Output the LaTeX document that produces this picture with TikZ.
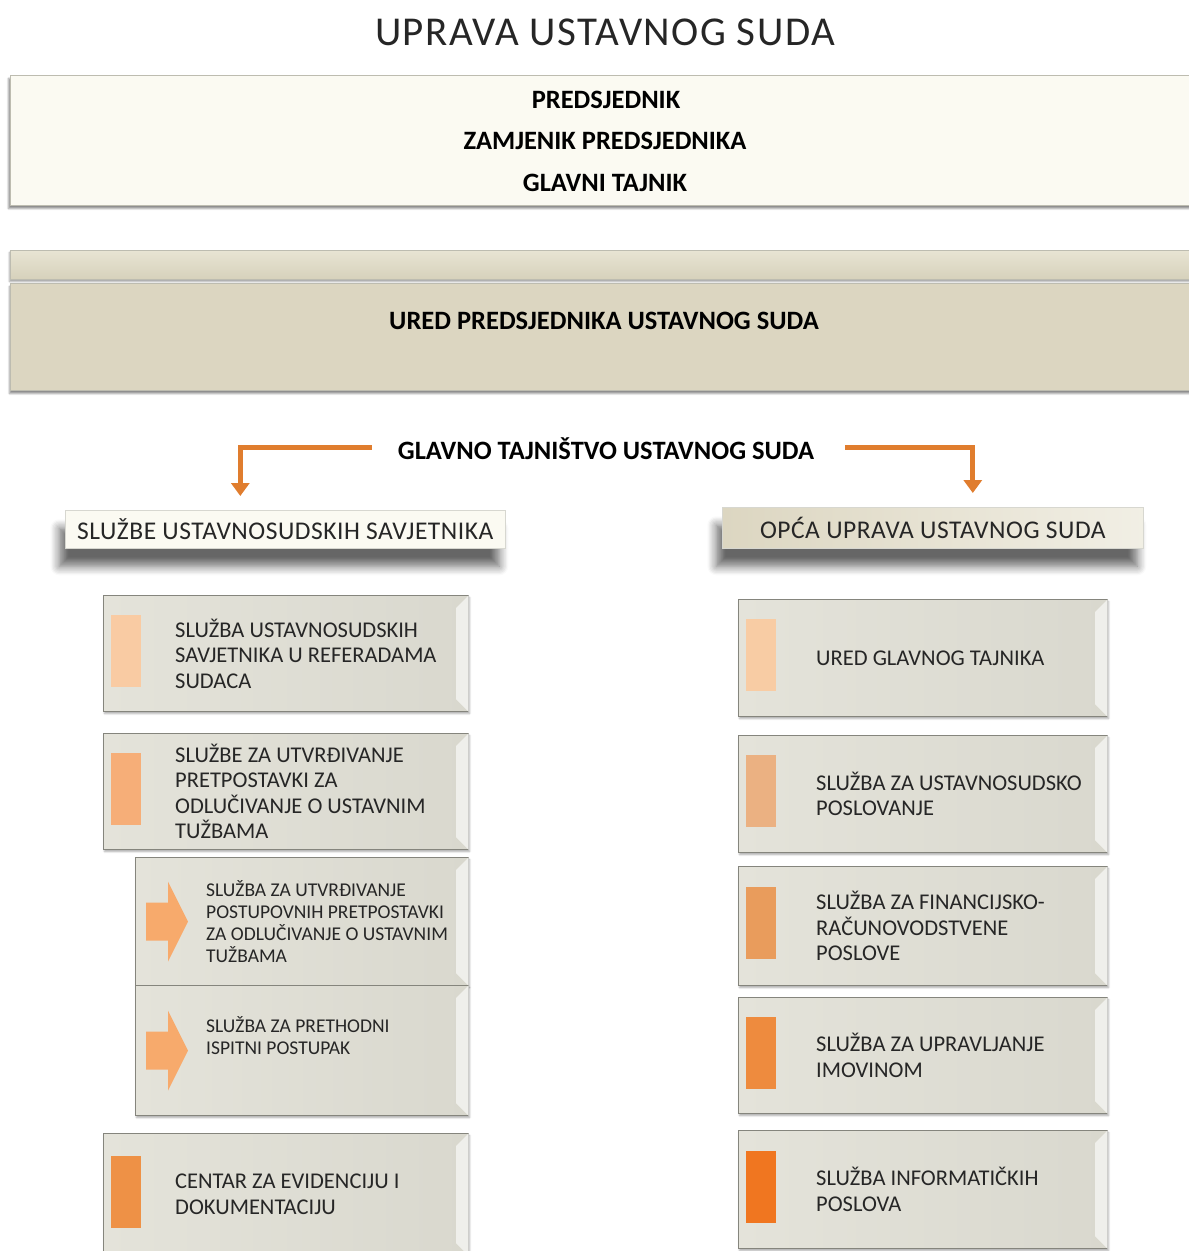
\documentclass[tikz,border=0pt]{standalone}
\usepackage{fontspec}
\setmainfont{Carlito}
\usetikzlibrary{arrows.meta,shadows.blur}
\definecolor{cream}{HTML}{FBFAF2}
\definecolor{creamline}{HTML}{BDBCB0}
\definecolor{tanA}{HTML}{E8E4D3}
\definecolor{tanB}{HTML}{D6D1BB}
\definecolor{tanC}{HTML}{DCD6C1}
\definecolor{boxL}{HTML}{E4E3DA}
\definecolor{boxR}{HTML}{D9D8CE}
\definecolor{boxline}{HTML}{85857D}
\definecolor{arrorange}{HTML}{E07D2E}
\definecolor{acA}{HTML}{F9CBA3}
\definecolor{acB}{HTML}{F6AE78}
\definecolor{acC}{HTML}{F7AA6C}
\definecolor{acE}{HTML}{EE9146}
\definecolor{acRa}{HTML}{F8CCA4}
\definecolor{acRb}{HTML}{EBB182}
\definecolor{acRc}{HTML}{E99C5C}
\definecolor{acRd}{HTML}{EE8B3E}
\definecolor{acRe}{HTML}{F07620}
\newcommand\orgunit[8]{%
  \node[unitbox, minimum width=#4pt, minimum height=#5pt] (#1) at (#2,#3) {};
  \fill[white,opacity=.6] (#1.north east) -- ++(-13,13) -- ([xshift=-13pt,yshift=13pt]#1.south east) -- (#1.south east) -- cycle;
  \node[accentbox, fill=#6] (#1a) at ([xshift=8pt,yshift=3pt]#1.west) {};
  \node[unittext] (#1t) at ([xshift=#8pt]#1.west) {#7};
}
\newcommand\orgarrowunit[6]{%
  \node[unitbox, minimum width=#4pt, minimum height=#5pt] (#1) at (#2,#3) {};
  \fill[white,opacity=.6] (#1.north east) -- ++(-13,13) -- ([xshift=-13pt,yshift=13pt]#1.south east) -- (#1.south east) -- cycle;
  \fill[acC] ([xshift=11pt,yshift=19pt]#1.west) -- ([xshift=33pt,yshift=19pt]#1.west) -- ([xshift=33pt,yshift=40pt]#1.west)
     -- ([xshift=53pt]#1.west) -- ([xshift=33pt,yshift=-40pt]#1.west) -- ([xshift=33pt,yshift=-19pt]#1.west)
     -- ([xshift=11pt,yshift=-19pt]#1.west) -- cycle;
  \node[smalltext] (#1t) at ([xshift=71pt]#1.west) {#6};
}
\begin{document}
\begin{tikzpicture}[x=1pt,y=-1pt,
  unitbox/.style={draw=boxline, line width=1pt, left color=boxL, right color=boxR,
     anchor=north west, inner sep=0pt,
     blur shadow={shadow xshift=1pt, shadow yshift=-2pt, shadow blur steps=4, shadow opacity=35}},
  accentbox/.style={anchor=west, minimum width=30pt, minimum height=72pt, inner sep=0pt},
  unittext/.style={anchor=west, align=left, inner sep=0pt, text=black!85,
     font=\fontsize{22.5}{25.5}\selectfont},
  smalltext/.style={anchor=west, align=left, inner sep=0pt, text=black!85,
     font=\fontsize{19.5}{22}\selectfont},
  boldtext/.style={inner sep=0pt, font=\fontsize{26.5}{29}\selectfont\bfseries},
  headtext/.style={font=\fontsize{25.5}{28}\selectfont\addfontfeatures{LetterSpace=2}, text=black!85},
  flow/.style={draw=arrorange, line width=5pt, -{Triangle[width=18pt,length=13pt]}},
]
\useasboundingbox (0,0) rectangle (1189,1251);
\clip (0,0) rectangle (1189,1251);

% title
\node[inner sep=0pt, font=\fontsize{41}{46}\selectfont\addfontfeatures{LetterSpace=3.5}, text=black!85] (title) at (605,32) {UPRAVA USTAVNOG SUDA};

% leadership box
\node[draw=creamline, line width=1pt, fill=cream, anchor=north west, inner sep=0pt,
      minimum width=1190pt, minimum height=130pt,
      blur shadow={shadow xshift=-2pt, shadow yshift=-3pt, shadow blur steps=4, shadow opacity=45}] (lead) at (10,75) {};
\node[boldtext] (pred) at (606,100) {PREDSJEDNIK};
\node[boldtext] (zam) at (605,141) {ZAMJENIK PREDSJEDNIKA};
\node[boldtext] (gt1) at (605,183) {GLAVNI TAJNIK};

% bar and office
\node[draw=creamline, line width=1pt, top color=tanA, bottom color=tanB, anchor=north west, inner sep=0pt,
      minimum width=1190pt, minimum height=29pt,
      blur shadow={shadow xshift=-1pt, shadow yshift=-2pt, shadow blur steps=4, shadow opacity=40}] (bar) at (10,250) {};
\node[draw=creamline, line width=1pt, fill=tanC, anchor=north west, inner sep=0pt,
      minimum width=1190pt, minimum height=107pt,
      blur shadow={shadow xshift=-1pt, shadow yshift=-3pt, shadow blur steps=4, shadow opacity=45}] (ured) at (10,283) {};
\node[boldtext] (uredt) at (604,321) {URED PREDSJEDNIKA USTAVNOG SUDA};

% general secretariat
\node[boldtext] (gts) at (606,449) {GLAVNO TAJNIŠTVO USTAVNOG SUDA};

% heading boxes
\node[fill=cream, draw=creamline!60, line width=.6pt, anchor=north west, inner sep=0pt,
      minimum width=440pt, minimum height=38pt,
      blur shadow={shadow xshift=-6pt, shadow yshift=-18pt, shadow blur steps=8, shadow opacity=60, shadow blur radius=9pt},
      headtext] (sl) at (65,510) {SLUŽBE USTAVNOSUDSKIH SAVJETNIKA};
\node[left color=tanC, right color=tanA!60!white, draw=creamline!60, line width=.6pt, anchor=north west, inner sep=0pt,
      minimum width=421pt, minimum height=41pt,
      blur shadow={shadow xshift=-6pt, shadow yshift=-18pt, shadow blur steps=8, shadow opacity=60, shadow blur radius=9pt},
      headtext] (op) at (722,507) {OPĆA UPRAVA USTAVNOG SUDA};

% connectors
\draw[flow] ([xshift=-26pt,yshift=2pt]gts.west) -| ([xshift=-45pt,yshift=14pt]sl.north);
\draw[flow] ([xshift=31pt,yshift=2pt]gts.east) -| ([xshift=40pt,yshift=14pt]op.north);

% left column
\orgunit{la}{103}{595}{365}{116}{acA}{SLUŽBA USTAVNOSUDSKIH\\SAVJETNIKA U REFERADAMA\\SUDACA}{72}
\orgunit{lb}{103}{733}{365}{116}{acB}{SLUŽBE ZA UTVRĐIVANJE\\PRETPOSTAVKI ZA\\ODLUČIVANJE O USTAVNIM\\TUŽBAMA}{72}
\orgarrowunit{lc}{135}{857}{333}{128}{SLUŽBA ZA UTVRĐIVANJE\\POSTUPOVNIH PRETPOSTAVKI\\ZA ODLUČIVANJE O USTAVNIM\\TUŽBAMA}
\orgarrowunit{ld}{135}{985}{333}{130}{SLUŽBA ZA PRETHODNI\\ISPITNI POSTUPAK\\[8pt]}
\orgunit{le}{103}{1133}{365}{122}{acE}{CENTAR ZA EVIDENCIJU I\\DOKUMENTACIJU}{72}

% right column
\orgunit{ra}{738}{599}{369}{117}{acRa}{URED GLAVNOG TAJNIKA}{78}
\orgunit{rb}{738}{735}{369}{117}{acRb}{SLUŽBA ZA USTAVNOSUDSKO\\POSLOVANJE}{78}
\orgunit{rc}{738}{866}{369}{119}{acRc}{SLUŽBA ZA FINANCIJSKO-\\RAČUNOVODSTVENE\\POSLOVE}{78}
\orgunit{rd}{738}{997}{369}{116}{acRd}{SLUŽBA ZA UPRAVLJANJE\\IMOVINOM}{78}
\orgunit{re}{738}{1130}{369}{118}{acRe}{SLUŽBA INFORMATIČKIH\\POSLOVA}{78}
\end{tikzpicture}
\end{document}
